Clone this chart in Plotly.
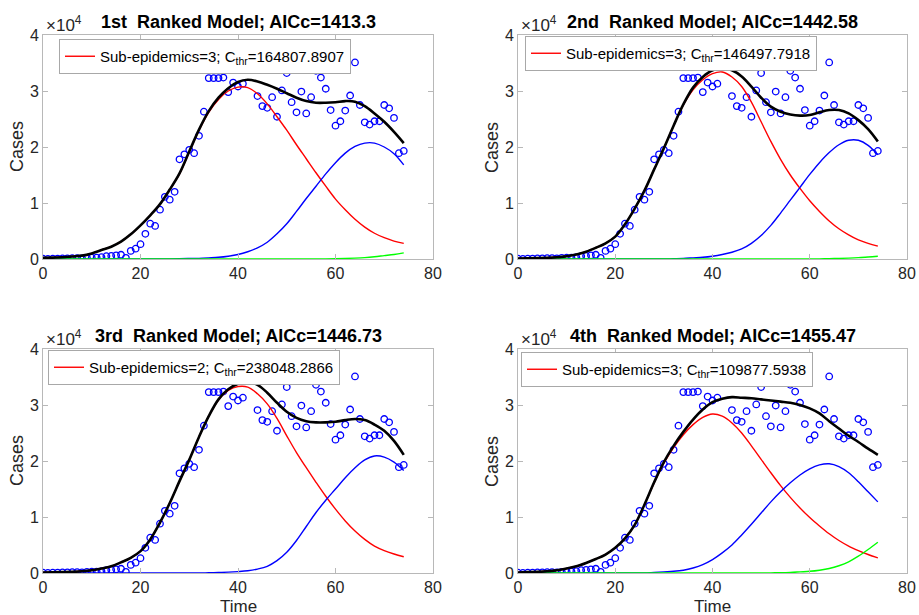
import plotly.graph_objects as go

# ---------------- data (cases in units of 10^4) ----------------
T_DATA = list(range(75))
CASES = [0.005, 0.002, 0.006, 0.008, 0.01, 0.012, 0.014, 0.017, 0.012, 0.021,
         0.024, 0.026, 0.032, 0.05, 0.055, 0.066, 0.076, 0.02, 0.145, 0.185,
         0.265, 0.45, 0.63, 0.59, 0.88, 1.11, 1.06, 1.2, 1.78, 1.87,
         1.95, 1.89, 2.2, 2.63, 3.23, 3.23, 3.23, 3.24, 2.98, 3.15,
         3.08, 3.13, 3.7, 3.45, 2.91, 2.73, 2.7, 2.89, 2.54, 3.01,
         3.32, 2.8, 2.62, 2.99, 2.6, 2.89, 3.36, 3.24, 3.04, 2.66,
         2.38, 2.46, 2.65, 2.92, 3.51, 2.75, 2.44, 2.4, 2.46, 2.46,
         2.75, 2.69, 2.52, 1.89, 1.93]

T_FIT = [0, 2, 4, 6, 8, 10, 12, 14, 16, 18, 20, 22, 24, 26,
         28, 30, 32, 34, 36, 38, 40, 42, 44, 46, 48, 50, 52, 54, 56, 58,
         60, 62, 64, 66, 68, 70, 72, 74]

# Panel 1
BLACK_1 = [0.02, 0.025, 0.03, 0.045, 0.06, 0.1, 0.16, 0.22, 0.31, 0.44, 0.6, 0.78, 0.98, 1.24,
           1.53, 1.92, 2.31, 2.64, 2.88, 3.05, 3.16, 3.2, 3.17, 3.11, 3.04, 2.96, 2.88, 2.82,
           2.79, 2.79, 2.8, 2.82, 2.81, 2.73, 2.6, 2.45, 2.27, 2.07]
RED_1 = [0.02, 0.025, 0.03, 0.045, 0.06, 0.1, 0.16, 0.22, 0.31, 0.44, 0.6, 0.78, 0.98, 1.24,
         1.52, 1.91, 2.3, 2.62, 2.85, 3.0, 3.07, 3.06, 2.95, 2.77, 2.54, 2.3, 2.04, 1.79,
         1.54, 1.3, 1.07, 0.88, 0.71, 0.57, 0.46, 0.38, 0.32, 0.28]
BLUE_1 = [0, 0, 0, 0, 0, 0, 0, 0, 0, 0, 0, 0, 0.002, 0.003,
          0.005, 0.008, 0.012, 0.02, 0.03, 0.05, 0.08, 0.13, 0.2, 0.3, 0.45, 0.63, 0.85, 1.08,
          1.3, 1.52, 1.72, 1.89, 2.01, 2.07, 2.07, 2.0, 1.88, 1.68]
GREEN_1 = [0, 0, 0, 0, 0, 0, 0, 0, 0, 0, 0, 0, 0, 0,
           0, 0, 0, 0, 0, 0, 0, 0, 0, 0, 0, 0, 0, 0,
           0.001, 0.002, 0.005, 0.01, 0.016, 0.025, 0.04, 0.06, 0.08, 0.11]

# Panel 2
BLACK_2 = [0.01, 0.012, 0.015, 0.02, 0.03, 0.05, 0.08, 0.13, 0.2, 0.28, 0.4, 0.62, 0.9, 1.22,
           1.6, 1.98, 2.38, 2.76, 3.06, 3.25, 3.37, 3.41, 3.37, 3.26, 3.08, 2.88, 2.72, 2.63,
           2.58, 2.56, 2.57, 2.62, 2.66, 2.66, 2.6, 2.48, 2.32, 2.1]
RED_2 = [0.01, 0.012, 0.015, 0.02, 0.03, 0.05, 0.08, 0.13, 0.2, 0.28, 0.4, 0.62, 0.9, 1.22,
         1.6, 1.98, 2.38, 2.75, 3.02, 3.2, 3.31, 3.34, 3.25, 3.08, 2.8, 2.45, 2.1, 1.78,
         1.5, 1.26, 1.04, 0.85, 0.68, 0.54, 0.43, 0.34, 0.28, 0.23]
BLUE_2 = [0, 0, 0, 0, 0, 0, 0, 0, 0, 0, 0, 0, 0, 0,
          0, 0, 0.005, 0.01, 0.02, 0.03, 0.05, 0.08, 0.12, 0.18, 0.28, 0.42, 0.6, 0.82,
          1.05, 1.28, 1.51, 1.72, 1.9, 2.04, 2.12, 2.12, 2.03, 1.86]
GREEN_2 = [0, 0, 0, 0, 0, 0, 0, 0, 0, 0, 0, 0, 0, 0,
           0, 0, 0, 0, 0, 0, 0, 0, 0, 0, 0, 0, 0, 0,
           0, 0, 0, 0.003, 0.006, 0.01, 0.016, 0.025, 0.035, 0.05]

# Panel 3
BLACK_3 = [0.01, 0.012, 0.015, 0.02, 0.03, 0.05, 0.08, 0.12, 0.19, 0.27, 0.39, 0.6, 0.9, 1.25,
           1.64, 2.02, 2.43, 2.8, 3.1, 3.28, 3.38, 3.41, 3.36, 3.22, 3.04, 2.88, 2.77, 2.71,
           2.69, 2.69, 2.7, 2.73, 2.75, 2.73, 2.65, 2.54, 2.36, 2.11]
RED_3 = [0.01, 0.012, 0.015, 0.02, 0.03, 0.05, 0.08, 0.12, 0.19, 0.27, 0.39, 0.6, 0.9, 1.25,
         1.64, 2.02, 2.43, 2.8, 3.09, 3.26, 3.33, 3.32, 3.2, 3.02, 2.76, 2.45, 2.15, 1.88,
         1.62, 1.37, 1.14, 0.93, 0.75, 0.6, 0.48, 0.4, 0.34, 0.29]
BLUE_3 = [0, 0, 0, 0, 0, 0, 0, 0, 0, 0, 0, 0, 0, 0,
          0, 0, 0, 0.005, 0.01, 0.015, 0.025, 0.04, 0.07, 0.12, 0.22, 0.37, 0.58, 0.83,
          1.08, 1.3, 1.5, 1.7, 1.88, 2.02, 2.09, 2.07, 1.98, 1.83]

# Panel 4
BLACK_4 = [0.01, 0.015, 0.02, 0.03, 0.05, 0.08, 0.12, 0.18, 0.25, 0.33, 0.45, 0.62, 0.86, 1.22,
           1.62, 1.98, 2.27, 2.52, 2.74, 2.92, 3.05, 3.11, 3.14, 3.13, 3.12, 3.1, 3.08, 3.06,
           3.04, 3.0, 2.94, 2.85, 2.71, 2.58, 2.45, 2.34, 2.22, 2.11]
RED_4 = [0.01, 0.015, 0.02, 0.03, 0.05, 0.08, 0.12, 0.18, 0.25, 0.33, 0.45, 0.62, 0.86, 1.22,
         1.61, 1.96, 2.24, 2.47, 2.65, 2.78, 2.84, 2.8, 2.68, 2.5, 2.27, 2.03, 1.79, 1.56,
         1.35, 1.16, 0.99, 0.84, 0.7, 0.58, 0.48, 0.4, 0.33, 0.27]
BLUE_4 = [0, 0, 0, 0, 0, 0, 0, 0, 0, 0, 0, 0, 0, 0,
          0.01, 0.02, 0.03, 0.05, 0.09, 0.15, 0.24, 0.36, 0.5, 0.68, 0.87, 1.07, 1.27, 1.45,
          1.61, 1.75, 1.86, 1.93, 1.95, 1.9, 1.79, 1.63, 1.45, 1.27]
GREEN_4 = [0, 0, 0, 0, 0, 0, 0, 0, 0, 0, 0, 0, 0, 0,
           0, 0, 0, 0, 0, 0, 0, 0, 0, 0, 0, 0, 0.003, 0.005,
           0.01, 0.02, 0.03, 0.05, 0.08, 0.13, 0.2, 0.3, 0.42, 0.55]

TITLES = ["1st  Ranked Model; AICc=1413.3", "2nd  Ranked Model; AICc=1442.58",
          "3rd  Ranked Model; AICc=1446.73", "4th  Ranked Model; AICc=1455.47"]
LEGENDS = ["Sub-epidemics=3; C<sub>thr</sub>=164807.8907",
           "Sub-epidemics=3; C<sub>thr</sub>=146497.7918",
           "Sub-epidemics=2; C<sub>thr</sub>=238048.2866",
           "Sub-epidemics=3; C<sub>thr</sub>=109877.5938"]
X_TICKS = [0, 20, 40, 60, 80]
Y_TICKS = [0, 1, 2, 3, 4]

PANELS = [
    (RED_1, BLUE_1, GREEN_1, BLACK_1),
    (RED_2, BLUE_2, GREEN_2, BLACK_2),
    (RED_3, BLUE_3, None, BLACK_3),
    (RED_4, BLUE_4, GREEN_4, BLACK_4),
]

# ---------------- layout geometry (pixels) ----------------
W, H = 919, 615
FONT = "Liberation Sans, Arial, Helvetica, sans-serif"
TXT = "#262626"
AXC = "#b8b8b8"

X_DOM = [(43, 433), (518, 907)]
Y_DOM = [(35, 259), (349, 573)]  # top, bottom in pixels from top


def px(x):
    return x / W


def py(y):
    return 1 - y / H


fig = go.Figure()
layout = dict(
    width=W, height=H, margin=dict(l=0, r=0, t=0, b=0),
    paper_bgcolor="white", plot_bgcolor="white",
    font=dict(family=FONT, size=15, color=TXT),
    showlegend=True, annotations=[],
)

SPL = dict(shape="spline", smoothing=1.0)

for i, (red, blue, green, black) in enumerate(PANELS):
    col, row = i % 2, i // 2
    xa = "x" if i == 0 else f"x{i + 1}"
    ya = "y" if i == 0 else f"y{i + 1}"
    lg = "legend" if i == 0 else f"legend{i + 1}"
    x0, x1 = X_DOM[col]
    yt, yb = Y_DOM[row]

    fig.add_trace(go.Scatter(x=T_DATA, y=CASES, mode="markers", xaxis=xa, yaxis=ya,
                             marker=dict(symbol="circle-open", size=6.5, color="#0000ff",
                                         line=dict(width=1.3, color="#0000ff")),
                             showlegend=False, hoverinfo="skip"))
    fig.add_trace(go.Scatter(x=T_FIT, y=red, mode="lines", xaxis=xa, yaxis=ya,
                             line=dict(color="#ff0000", width=1.4, **SPL),
                             name=LEGENDS[i], legend=lg, showlegend=True))
    fig.add_trace(go.Scatter(x=T_FIT, y=blue, mode="lines", xaxis=xa, yaxis=ya,
                             line=dict(color="#0000ff", width=1.4, **SPL),
                             showlegend=False))
    if green is not None:
        fig.add_trace(go.Scatter(x=T_FIT, y=green, mode="lines", xaxis=xa, yaxis=ya,
                                 line=dict(color="#00ff00", width=1.4, **SPL),
                                 showlegend=False))
    fig.add_trace(go.Scatter(x=T_FIT, y=black, mode="lines", xaxis=xa, yaxis=ya,
                             line=dict(color="#000000", width=2.6, **SPL),
                             showlegend=False))

    axis_common = dict(showgrid=False, zeroline=False, showline=True, linecolor=AXC,
                       linewidth=1, mirror="ticks", ticks="inside", ticklen=5,
                       tickcolor=AXC, tickfont=dict(family=FONT, size=16, color=TXT),
                       automargin=False, fixedrange=True)
    layout["xaxis" if i == 0 else f"xaxis{i + 1}"] = dict(
        axis_common, domain=[px(x0), px(x1)], range=[0, 80], tickvals=X_TICKS,
        anchor=ya)
    layout["yaxis" if i == 0 else f"yaxis{i + 1}"] = dict(
        axis_common, domain=[py(yb), py(yt)], range=[0, 4], tickvals=Y_TICKS,
        anchor=xa)

    leg_pos = [(59, 39), (525, 36), (48, 350), (521, 352)][i]
    layout[lg] = dict(x=px(leg_pos[0]), y=py(leg_pos[1]), xanchor="left", yanchor="top",
                      bgcolor="white", bordercolor="#a8a8a8", borderwidth=1,
                      font=dict(family=FONT, size=15, color="#000000"),
                      itemwidth=30, tracegroupgap=0)

    cx = (x0 + x1) / 2
    layout["annotations"].append(dict(
        text=f"<b>{TITLES[i]}</b>", x=px(cx), y=py(yt - 13), xref="paper", yref="paper",
        showarrow=False, xanchor="center", yanchor="middle",
        font=dict(family=FONT, size=18, color="#000000")))
    layout["annotations"].append(dict(
        text="×10<sup>4</sup>", x=px(x0 + 1), y=py(yt - 11), xref="paper", yref="paper",
        showarrow=False, xanchor="left", yanchor="middle",
        font=dict(family=FONT, size=17, color=TXT)))
    layout["annotations"].append(dict(
        text="Cases", x=px(x0 - 26), y=py((yt + yb) / 2), xref="paper", yref="paper",
        showarrow=False, xanchor="center", yanchor="middle", textangle=-90,
        font=dict(family=FONT, size=18, color=TXT)))
    if row == 1:
        layout["annotations"].append(dict(
            text="Time", x=px(cx), y=py(606), xref="paper", yref="paper",
            showarrow=False, xanchor="center", yanchor="middle",
            font=dict(family=FONT, size=17, color=TXT)))

fig.update_layout(**layout)
fig.write_html("out.html")
